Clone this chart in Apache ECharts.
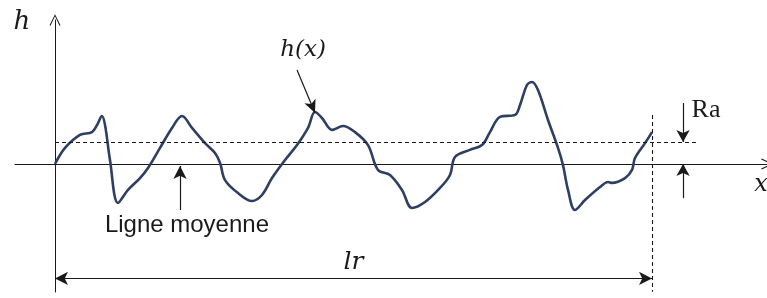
<!DOCTYPE html>
<html>
<head>
<meta charset="utf-8">
<script src="https://cdn.jsdelivr.net/npm/echarts@6/dist/echarts.min.js"></script>
<style>
  html, body { margin: 0; padding: 0; background: #fff; }
  #profil { width: 767px; height: 298px; }
</style>
</head>
<body>
<div id="profil"></div>
<script>
  // profil de rugosité : x en % de lr, h en unités de Ra
  var xs = [0, 1.68, 4.19, 6.20, 7.04, 7.87, 8.38, 9.21, 10.55, 12.23, 14.24, 15.58, 17.59, 19.60, 21.27,
    22.95, 25.13, 26.80, 27.64, 28.48, 30.65, 33.00, 34.67, 36.35, 38.53, 40.54, 42.38, 43.55, 44.72,
    46.40, 48.24, 50.25, 52.43, 54.10, 56.11, 58.12, 59.80, 61.98, 64.49, 66.16, 67.00, 69.51, 71.52,
    72.86, 74.54, 77.05, 77.89, 79.06, 79.90, 80.90, 82.58, 84.25, 85.09, 85.93, 87.10, 88.78, 91.29,
    92.63, 93.30, 95.48, 96.65, 97.15, 98.83, 100];
  var hs = [0, 0.73, 1.32, 1.45, 1.77, 2.18, 1.77, 0.18, -1.77, -1.18, -0.64, -0.18, 0.73, 1.64, 2.18,
    1.64, 0.95, 0.50, 0.05, -0.73, -1.32, -1.68, -1.41, -0.64, 0.18, 0.86, 1.64, 2.36, 2.09,
    1.55, 1.73, 1.45, 0.86, -0.27, -0.50, -1.18, -2.00, -1.73, -1.09, -0.50, 0.32, 0.64, 0.86,
    1.45, 2.14, 2.23, 2.68, 3.59, 3.73, 3.36, 2.00, 0.73, -0.05, -1.18, -2.09, -1.64, -1.05,
    -0.82, -0.86, -0.64, -0.27, 0.27, 0.95, 1.45];
  var lr = 100;
  var Ra = 1;

  var chevron = 'path://M0,10 L5,0 L10,10 L9.1,10.5 L5,1.8 L0.9,10.5 Z';
  var ink = '#1a1a1a';

  var chart = echarts.init(document.getElementById('profil'));

  var axisCommon = {
    type: 'value',
    axisLine: {
      show: true, onZero: true,
      symbol: ['none', chevron], symbolSize: [11, 13],
      lineStyle: { color: ink, width: 1 }
    },
    axisTick: { show: false },
    axisLabel: { show: false },
    splitLine: { show: false }
  };

  var solid = { type: 'solid', color: ink, width: 1.2 };
  var dashed = { type: [4, 3], color: ink, width: 1.1 };

  var option = {
    animation: false,
    grid: { left: 15, right: 0, top: 20, bottom: 6 },
    xAxis: Object.assign({}, axisCommon, { min: -6.70, max: 119.26 }),
    yAxis: Object.assign({}, axisCommon, { min: -5.818, max: 6.545 }),
    series: [{
      type: 'line',
      data: xs.map(function (x, i) { return [x, hs[i]]; }),
      smooth: 0.35,
      showSymbol: false,
      silent: true,
      lineStyle: { color: '#2f3e63', width: 2.6 },
      markLine: {
        silent: true,
        symbol: ['none', 'none'],
        label: { show: false },
        data: [
          // ligne Ra (pointillés)
          [{ coord: [0, Ra], lineStyle: dashed }, { coord: [107.7, Ra] }],
          // fin de lr (pointillés)
          [{ coord: [lr, 2.23], lineStyle: dashed }, { coord: [lr, -5.81] }],
          // flèche lr
          [{ coord: [0, -5.2], lineStyle: solid, symbol: 'arrow', symbolSize: [10, 13],
             label: { show: true, position: 'middle', formatter: 'lr', distance: 3,
                      fontFamily: 'DejaVu Serif', fontStyle: 'italic', fontSize: 25, color: ink } },
           { coord: [lr, -5.2], symbol: 'arrow', symbolSize: [10, 13] }],
          // flèches Ra
          [{ coord: [105.2, 2.77], lineStyle: solid }, { coord: [105.2, Ra], symbol: 'arrow', symbolSize: [10, 12] }],
          [{ coord: [105.2, -1.55], lineStyle: solid }, { coord: [105.2, 0], symbol: 'arrow', symbolSize: [10, 12] }],
          // flèche h(x)
          [{ coord: [40.54, 4.27], lineStyle: solid }, { coord: [43.55, 2.32], symbol: 'arrow', symbolSize: [9, 13] }],
          // flèche ligne moyenne
          [{ coord: [20.94, -2.09], lineStyle: solid }, { coord: [20.94, -0.09], symbol: 'arrow', symbolSize: [10, 13] }]
        ]
      }
    }]
  };
  chart.setOption(option);

  // textes placés en coordonnées de données
  var labels = [
    { text: 'h', at: [-5.53, 6.45], font: 'italic 26px "DejaVu Serif"' },
    { text: 'h(x)', at: [41.54, 5.18], font: 'italic 23px "DejaVu Serif"' },
    { text: 'Ra', at: [109.05, 2.45], font: '26px "Liberation Serif"' },
    { text: 'x', at: [118.26, -0.95], font: 'italic 24px "DejaVu Serif"' },
    { text: 'Ligne moyenne', at: [22.1, -2.77], font: '24px "Liberation Sans"' }
  ];
  chart.setOption({
    graphic: labels.map(function (l) {
      var p = chart.convertToPixel({ gridIndex: 0 }, l.at);
      return {
        type: 'text', x: p[0], y: p[1], silent: true,
        style: { text: l.text, font: l.font, fill: ink, align: 'center', verticalAlign: 'middle' }
      };
    })
  });
</script>
</body>
</html>
